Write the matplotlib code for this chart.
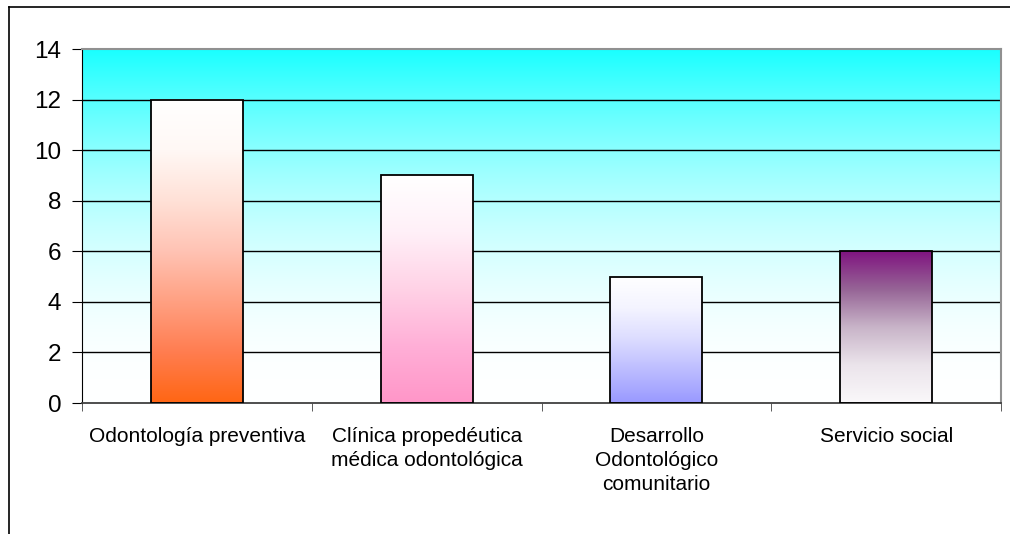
import numpy as np
import matplotlib.pyplot as plt
from matplotlib.colors import LinearSegmentedColormap
from matplotlib.lines import Line2D

plt.rcParams['font.family'] = ['Liberation Sans', 'DejaVu Sans']

categorias = ['Odontología preventiva',
              'Clínica propedéutica\nmédica odontológica',
              'Desarrollo\nOdontológico\ncomunitario',
              'Servicio social']
valores = [12, 9, 5, 6]
# paradas de color de abajo hacia arriba para cada barra
colores = [['#ff6614', '#ff7d50', '#ffa082', '#ffc3b4', '#ffe1d7', '#fff8f5', '#ffffff'],
           ['#ff96c8', '#ffafd7', '#ffd2e6', '#fff0f8', '#ffffff'],
           ['#9999ff', '#bbbbff', '#dcdcff', '#f4f4ff', '#ffffff'],
           ['#faf8fa', '#ebe4eb', '#c8b4c8', '#966496', '#801480']]
yticks = [0, 2, 4, 6, 8, 10, 12, 14]

fig = plt.figure(figsize=(10.1, 5.34), dpi=100)
ax = fig.add_axes([82/1010, 1-403/534, (1001-82)/1010, (403-49)/534])

# marco exterior (recortado a la derecha y abajo)
fig.add_artist(Line2D([9/1010, 9/1010], [0, 1-7/534], color='black', lw=1.2,
                      transform=fig.transFigure))
fig.add_artist(Line2D([9/1010, 1], [1-7/534, 1-7/534], color='black', lw=1.2,
                      transform=fig.transFigure))

ax.set_xlim(-0.5, 3.5)
ax.set_ylim(0, 14)

# fondo degradado cian -> blanco
f = np.linspace(0, 1, 256)
r = 1 - 0.90 * f**2
fondo = np.dstack([r, np.ones_like(f), np.ones_like(f)]).reshape(-1, 1, 3)
ax.imshow(fondo, extent=[-0.5, 3.5, 0, 14], origin='lower', aspect='auto', zorder=0)

for y in yticks[1:-1]:
    ax.axhline(y, color='black', lw=1, zorder=1)

ancho = 0.4
grad = np.linspace(0, 1, 256).reshape(-1, 1)
for i, (v, cs) in enumerate(zip(valores, colores)):
    cmap = LinearSegmentedColormap.from_list('g%d' % i, cs)
    ax.imshow(grad, extent=[i - ancho/2, i + ancho/2, 0, v], origin='lower',
              aspect='auto', cmap=cmap, zorder=2)
    ax.bar(i, v, width=ancho, facecolor='none', edgecolor='black', lw=1.3, zorder=3)

ax.set_yticks(yticks)
ax.set_xticks(range(len(categorias)))
ax.set_xticklabels(categorias, fontsize=15, linespacing=1.33)
ax.set_xticks([-0.5, 0.5, 1.5, 2.5, 3.5], minor=True)
ax.tick_params(axis='x', which='major', length=0, pad=17)
ax.tick_params(axis='x', which='minor', length=6, direction='out', color='#404040')
ax.tick_params(axis='y', length=7, direction='out', labelsize=17.5, pad=8)

for s in ['top', 'right']:
    ax.spines[s].set_color('#909090')
    ax.spines[s].set_linewidth(1.5)
ax.spines['left'].set_color('black')
ax.spines['bottom'].set_color('#404040')
ax.spines['bottom'].set_linewidth(1.3)

plt.savefig('out.png', dpi=100)
